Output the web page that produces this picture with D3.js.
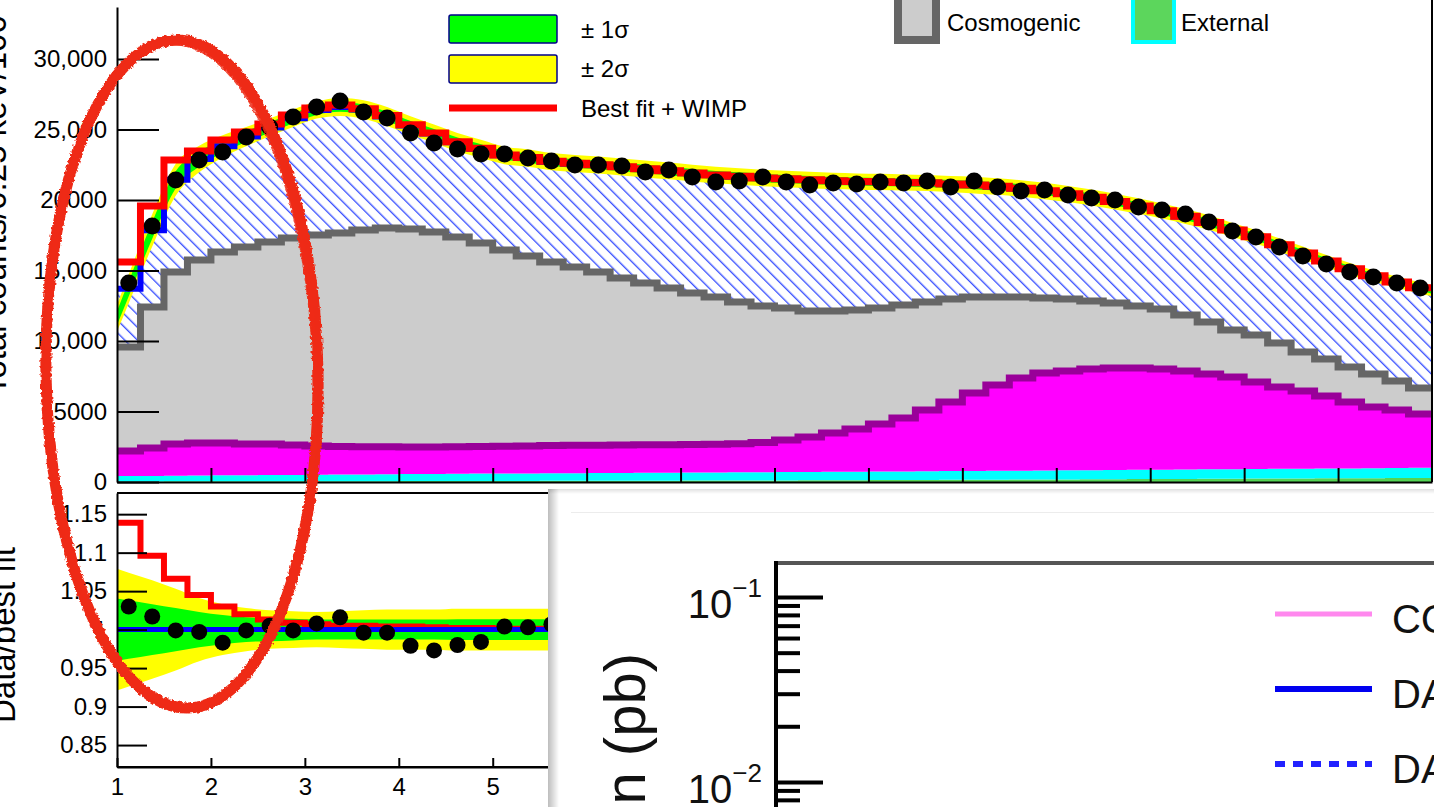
<!DOCTYPE html>
<html>
<head>
<meta charset="utf-8">
<script src="https://cdn.jsdelivr.net/npm/d3@7"></script>
<style>
html,body{margin:0;padding:0;background:#fff;overflow:hidden;}
svg{display:block;font-family:"Liberation Sans",Arial,Helvetica,sans-serif;}
</style>
</head>
<body>
<script>
// energy bins, 0.25 keV wide (lower edges)
var binW = 0.25;
var binLo = [1,1.25,1.5,1.75,2,2.25,2.5,2.75,3,3.25,3.5,3.75,4,4.25,4.5,4.75,5,5.25,5.5,5.75,6,6.25,6.5,6.75,7,7.25,7.5,7.75,8,8.25,8.5,8.75,9,9.25,9.5,9.75,10,10.25,10.5,10.75,11,11.25,11.5,11.75,12,12.25,12.5,12.75,13,13.25,13.5,13.75,14,14.25,14.5,14.75];

// counts per bin
var dataCounts = [14110,18160,21420,22840,23400,24470,25180,25890,26600,27020,26240,25820,24750,24040,23620,23260,23260,22980,22770,22480,22480,22410,21990,22130,21630,21280,21350,21630,21280,21060,21210,21130,21280,21210,21350,20920,21350,20920,20640,20710,20350,20140,20000,19500,19290,19010,18440,17800,17380,16670,16030,15460,14890,14540,14110,13760];
var bestFit = [13700,17850,21440,22910,23810,24500,25150,25800,26380,26600,26420,25920,25280,24710,24100,23640,23170,22980,22720,22590,22480,22340,22200,22060,21910,21770,21670,21560,21490,21420,21350,21310,21280,21240,21210,21130,21060,20960,20820,20640,20430,20180,19890,19570,19220,18830,18400,17870,17380,16810,16240,15670,15110,14610,14180,13760];
var fitWimp = [15600,19570,22840,23480,24260,24820,25390,26030,26520,26740,26480,25990,25340,24760,24140,23680,23200,23010,22750,22610,22500,22360,22210,22070,21920,21780,21680,21570,21500,21430,21360,21320,21290,21250,21220,21140,21070,20970,20830,20650,20440,20190,19900,19580,19230,18840,18410,17880,17390,16820,16250,15680,15120,14620,14190,13770];

// background components (stacked, bottom to top)
var external = [40,40,45,45,50,50,50,55,55,60,60,60,65,65,70,70,75,75,80,80,85,90,90,95,100,100,105,110,115,120,125,130,135,140,150,155,160,165,170,180,185,190,200,205,210,220,225,230,240,245,250,260,265,270,280,290];
var surface = [380,390,400,410,420,430,440,450,460,470,480,490,500,510,520,525,530,535,540,545,550,555,560,565,570,575,580,585,590,595,600,600,605,610,615,620,625,630,635,640,645,650,655,660,665,670,675,680,685,690,695,700,700,705,710,715];
var internal = [1780,1980,2255,2315,2300,2220,2210,2115,2035,1990,1960,1950,1915,1905,1910,1925,1935,1950,1960,1975,1965,1975,1990,1990,1990,2005,2035,2105,2275,2475,2755,3030,3370,3790,4345,4895,5525,6085,6575,6910,7040,7170,7235,7225,7135,6980,6760,6540,6165,5805,5505,5140,4705,4345,4120,3815];
var cosmogenic = [7370,10000,12190,12970,13540,13970,14320,14680,14970,15140,15370,15510,15460,15250,14880,14430,13910,13470,13020,12650,12290,11850,11470,11110,10740,10440,10050,9680,9360,8940,8650,8440,8230,8010,7660,7310,6810,6240,5740,5320,5110,4830,4610,4390,4260,3970,3690,3330,3340,3120,2770,2620,2490,2340,2050,1850];

// relative uncertainty of the fit
var sig2 = [0.074,0.064,0.053,0.041,0.033,0.028,0.025,0.024,0.023,0.024,0.025,0.026,0.026,0.026,0.027,0.027,0.027,0.027,0.027,0.027,0.027,0.027,0.027,0.027,0.027,0.027,0.027,0.027,0.027,0.027,0.027,0.027,0.027,0.027,0.027,0.027,0.028,0.028,0.028,0.028,0.028,0.028,0.028,0.028,0.028,0.028,0.028,0.028,0.028,0.028,0.028,0.028,0.028,0.028,0.028,0.028];
var sig1 = [0.038,0.033,0.028,0.023,0.019,0.016,0.015,0.014,0.013,0.013,0.013,0.013,0.013,0.013,0.0135,0.0135,0.0135,0.0135,0.0135,0.0135,0.0135,0.0135,0.0135,0.0135,0.0135,0.0135,0.0135,0.0135,0.0135,0.0135,0.0135,0.0135,0.0135,0.0135,0.0135,0.0135,0.014,0.014,0.014,0.014,0.014,0.014,0.014,0.014,0.014,0.014,0.014,0.014,0.014,0.014,0.014,0.014,0.014,0.014,0.014,0.014];

// ratio panel (only the bins not hidden by the pasted figure)
var ratioData = [1.030,1.017,0.999,0.997,0.983,0.999,1.005,0.999,1.008,1.016,0.996,0.996,0.979,0.973,0.980,0.984,1.004,1.003,1.007];
var ratioWimp = [1.139,1.096,1.066,1.045,1.030,1.020,1.013,1.009,1.007,1.005,1.005,1.004,1.004,1.003,1.002,1.002,1.001,1.001,1.001];

var yTicks = [0,5000,10000,15000,20000,25000,30000];
var yTickLabels = ["0","5000","10,000","15,000","20000","25,000","30,000"];
var rTicks = [0.85,0.9,0.95,1,1.05,1.1,1.15];
var rTickLabels = ["0.85","0.9","0.95","1","1.05","1.1","1.15"];
var xTicks = [2,3,4,5,6,7,8,9,10,11,12,13,14];
var rxLabels = [1,2,3,4,5];   // the rest sits under the pasted figure

// second (pasted) figure
var logMajor = [0.01,0.1];
var logMinor = [0.008,0.009,0.02,0.03,0.04,0.05,0.06,0.07,0.08,0.09];
var logLabels = ["\u22122","\u22121"];
var legend2 = [
  {name:"COSINE-100", color:"#ff88ee", width:5, dash:null},
  {name:"DAMA/LIBRA Na", color:"#0000f0", width:6, dash:null},
  {name:"DAMA/LIBRA I", color:"#2222ff", width:6, dash:"10,8"}
];

var W = 1434, H = 807;
var svg = d3.select("body").append("svg").attr("width", W).attr("height", H);
var defs = svg.append("defs");

var x = d3.scaleLinear().domain([1, 15]).range([117, 1432]);
var y = d3.scaleLinear().domain([0, 33690]).range([482, 7]);
var yr = d3.scaleLinear().domain([0.8215, 1.1775]).range([767, 493]);

var hatch = defs.append("pattern").attr("id", "hatch").attr("patternUnits", "userSpaceOnUse")
    .attr("width", 9).attr("height", 9).attr("patternTransform", "rotate(-45)");
hatch.append("rect").attr("width", 9).attr("height", 9).attr("fill", "#fff");
hatch.append("line").attr("x1", 0.7).attr("y1", 0).attr("x2", 0.7).attr("y2", 9)
    .attr("stroke", "#3048ff").attr("stroke-width", 1.3);

defs.append("clipPath").attr("id", "clipMain").append("rect")
    .attr("x", 117).attr("y", 0).attr("width", 1315).attr("height", 482);
defs.append("clipPath").attr("id", "clipRatio").append("rect")
    .attr("x", 117).attr("y", 493).attr("width", 1315).attr("height", 274);

// rough marker stroke
var rough = defs.append("filter").attr("id", "rough").attr("x", "-10%").attr("y", "-10%")
    .attr("width", "120%").attr("height", "120%");
rough.append("feTurbulence").attr("type", "fractalNoise").attr("baseFrequency", 0.35)
    .attr("numOctaves", 2).attr("seed", 3).attr("result", "n");
rough.append("feDisplacementMap").attr("in", "SourceGraphic").attr("in2", "n")
    .attr("scale", 4).attr("xChannelSelector", "R").attr("yChannelSelector", "G");

// step helpers
function stepPts(lo, hi) {
  var p = binLo.map(function(b, i) { return [b, lo[i], hi[i]]; });
  var n = binLo.length - 1;
  p.push([binLo[n] + binW, lo[n], hi[n]]);
  return p;
}
var stepArea = d3.area().curve(d3.curveStepAfter)
    .x(function(d) { return x(d[0]); })
    .y0(function(d) { return y(d[1]); })
    .y1(function(d) { return y(d[2]); });
var stepLine = d3.line().curve(d3.curveStepAfter)
    .x(function(d) { return x(d[0]); })
    .y(function(d) { return y(d[2]); });

// stack
var rows = binLo.map(function(b, i) {
  return {external: external[i], surface: surface[i], internal: internal[i], cosmogenic: cosmogenic[i]};
});
var keys = ["external", "surface", "internal", "cosmogenic"];
var fills = {external: "#55d455", surface: "#00ffff", internal: "#ff00ff", cosmogenic: "#cccccc"};
var borders = {internal: "#990099", cosmogenic: "#666666"};
var stacked = d3.stack().keys(keys)(rows);

var main = svg.append("g").attr("clip-path", "url(#clipMain)");

stacked.forEach(function(layer) {
  var lo = layer.map(function(d) { return d[0]; });
  var hi = layer.map(function(d) { return d[1]; });
  main.append("path").attr("d", stepArea(stepPts(lo, hi))).attr("fill", fills[layer.key]);
});

var stackTop = stacked[stacked.length - 1].map(function(d) { return d[1]; });
main.append("path").attr("d", stepArea(stepPts(stackTop, bestFit))).attr("fill", "url(#hatch)");

stacked.forEach(function(layer) {
  if (!borders[layer.key]) return;
  var hi = layer.map(function(d) { return d[1]; });
  main.append("path").attr("d", stepLine(stepPts(hi, hi)))
      .attr("fill", "none").attr("stroke", borders[layer.key]).attr("stroke-width", 7);
});

// uncertainty bands (smooth, through bin centres, extended to the edges)
function extendEdges(pts) {
  var n = pts.length, a = pts[0], b = pts[1], c = pts[n - 2], d = pts[n - 1];
  var first = [1], last = [15];
  for (var k = 1; k < a.length; k++) {
    first.push(a[k] - (b[k] - a[k]) / 2);
    last.push(d[k] + (d[k] - c[k]) / 2);
  }
  return [first].concat(pts, [last]);
}
function bandPts(sig) {
  return extendEdges(binLo.map(function(b, i) {
    return [b + binW / 2, bestFit[i] * (1 - sig[i]), bestFit[i] * (1 + sig[i])];
  }));
}
var bandArea = d3.area().curve(d3.curveMonotoneX)
    .x(function(d) { return x(d[0]); })
    .y0(function(d) { return y(d[1]); })
    .y1(function(d) { return y(d[2]); });
main.append("path").attr("d", bandArea(bandPts(sig2))).attr("fill", "#ffff00");
main.append("path").attr("d", bandArea(bandPts(sig1))).attr("fill", "#00ff00");

main.append("path").attr("d", stepLine(stepPts(bestFit, bestFit)))
    .attr("fill", "none").attr("stroke", "#0000ff").attr("stroke-width", 6);
main.append("path").attr("d", stepLine(stepPts(fitWimp, fitWimp)))
    .attr("fill", "none").attr("stroke", "#ff0000").attr("stroke-width", 7);

svg.append("g").selectAll("circle").data(dataCounts).enter().append("circle")
    .attr("cx", function(d, i) { return x(binLo[i] + binW / 2); })
    .attr("cy", function(d) { return y(d); })
    .attr("r", 8.5).attr("fill", "#000");

// main axes
var yAx = svg.append("g").attr("transform", "translate(117,0)")
    .call(d3.axisLeft(y).tickValues(yTicks).tickSize(-42).tickSizeOuter(0).tickPadding(10)
      .tickFormat(function(d, i) { return yTickLabels[i]; }));
var xAx = svg.append("g").attr("transform", "translate(0,482)")
    .call(d3.axisBottom(x).tickValues(xTicks).tickSize(-14).tickSizeOuter(0).tickFormat(""));
svg.append("line").attr("x1", 1432).attr("x2", 1432).attr("y1", 0).attr("y2", 482)
    .attr("stroke", "#000").attr("stroke-width", 2);

svg.append("text").attr("transform", "translate(6,395) rotate(-90)")
    .attr("font-size", 33).text("Total counts/0.25 keV/100");

// ratio panel
var ratio = svg.append("g").attr("clip-path", "url(#clipRatio)");
function ratioBand(sig) {
  return extendEdges(binLo.map(function(b, i) { return [b + binW / 2, 1 - sig[i], 1 + sig[i]]; }));
}
var rBand = d3.area().curve(d3.curveMonotoneX)
    .x(function(d) { return x(d[0]); })
    .y0(function(d) { return yr(d[1]); })
    .y1(function(d) { return yr(d[2]); });
ratio.append("path").attr("d", rBand(ratioBand(sig2))).attr("fill", "#ffff00");
ratio.append("path").attr("d", rBand(ratioBand(sig1))).attr("fill", "#00ff00");

var rStep = ratioWimp.map(function(v, i) { return [binLo[i], v]; });
rStep.push([binLo[ratioWimp.length - 1] + binW, ratioWimp[ratioWimp.length - 1]]);
ratio.append("path")
    .attr("d", d3.line().curve(d3.curveStepAfter)
      .x(function(d) { return x(d[0]); }).y(function(d) { return yr(d[1]); })(rStep))
    .attr("fill", "none").attr("stroke", "#ff0000").attr("stroke-width", 6);
ratio.append("line").attr("x1", x(1)).attr("x2", x(15)).attr("y1", yr(1)).attr("y2", yr(1))
    .attr("stroke", "#0000ff").attr("stroke-width", 5);
ratio.selectAll("circle").data(ratioData).enter().append("circle")
    .attr("cx", function(d, i) { return x(binLo[i] + binW / 2); })
    .attr("cy", function(d) { return yr(d); })
    .attr("r", 8).attr("fill", "#000");

var ryAx = svg.append("g").attr("transform", "translate(117,0)")
    .call(d3.axisLeft(yr).tickValues(rTicks).tickSize(-30).tickSizeOuter(0).tickPadding(10)
      .tickFormat(function(d, i) { return rTickLabels[i]; }));
var rxAx = svg.append("g").attr("transform", "translate(0,767)")
    .call(d3.axisBottom(x).tickValues(rxLabels).tickSize(-9).tickSizeOuter(0).tickPadding(11));
svg.append("line").attr("x1", 117).attr("x2", 560).attr("y1", 767).attr("y2", 767)
    .attr("stroke", "#000").attr("stroke-width", 2);
svg.append("line").attr("x1", 117).attr("x2", 560).attr("y1", 493).attr("y2", 493)
    .attr("stroke", "#000").attr("stroke-width", 2);

[yAx, xAx, ryAx, rxAx].forEach(function(g) {
  g.attr("font-size", 24).attr("font-family", "Liberation Sans, Arial, sans-serif");
  g.selectAll("line").attr("stroke", "#000").attr("stroke-width", 2);
  g.select(".domain").attr("stroke", "#000").attr("stroke-width", 2);
  g.selectAll("text").attr("fill", "#000");
});

svg.append("text").attr("transform", "translate(15,635) rotate(-90)")
    .attr("text-anchor", "middle").attr("font-size", 33).text("Data/best fit");

// legends
var leg = svg.append("g").attr("font-size", 24);
leg.append("rect").attr("x", 449).attr("y", 15).attr("width", 108).attr("height", 28).attr("rx", 2)
    .attr("fill", "#00ff00").attr("stroke", "#00008b").attr("stroke-width", 1.5);
leg.append("rect").attr("x", 449).attr("y", 55).attr("width", 108).attr("height", 28).attr("rx", 2)
    .attr("fill", "#ffff00").attr("stroke", "#00008b").attr("stroke-width", 1.5);
leg.append("line").attr("x1", 449).attr("x2", 557).attr("y1", 108).attr("y2", 108)
    .attr("stroke", "#ff0000").attr("stroke-width", 7);
leg.append("text").attr("x", 581).attr("y", 38).text("\u00b1 1\u03c3");
leg.append("text").attr("x", 581).attr("y", 77).text("\u00b1 2\u03c3");
leg.append("text").attr("x", 581).attr("y", 117).text("Best fit + WIMP");

leg.append("rect").attr("x", 898).attr("y", -10).attr("width", 38).attr("height", 50)
    .attr("fill", "#cccccc").attr("stroke", "#666666").attr("stroke-width", 8);
leg.append("text").attr("x", 947).attr("y", 31).text("Cosmogenic");
leg.append("rect").attr("x", 1133).attr("y", -10).attr("width", 41).attr("height", 52)
    .attr("fill", "#5cd65c").attr("stroke", "#00ffff").attr("stroke-width", 4);
leg.append("text").attr("x", 1181).attr("y", 31).text("External");

// pasted second figure
var sh = defs.append("linearGradient").attr("id", "shL").attr("x1", 0).attr("x2", 1).attr("y1", 0).attr("y2", 0);
sh.append("stop").attr("offset", 0).attr("stop-color", "#000").attr("stop-opacity", 0.26);
sh.append("stop").attr("offset", 1).attr("stop-color", "#000").attr("stop-opacity", 0);
var shT = defs.append("linearGradient").attr("id", "shT").attr("x1", 0).attr("x2", 0).attr("y1", 0).attr("y2", 1);
shT.append("stop").attr("offset", 0).attr("stop-color", "#000").attr("stop-opacity", 0.12);
shT.append("stop").attr("offset", 1).attr("stop-color", "#000").attr("stop-opacity", 0);

var ov = svg.append("g");
ov.append("rect").attr("x", 548).attr("y", 489).attr("width", W - 548).attr("height", H - 489).attr("fill", "#fff");
ov.append("rect").attr("x", 548).attr("y", 489).attr("width", 11).attr("height", H - 489).attr("fill", "url(#shL)");
ov.append("rect").attr("x", 548).attr("y", 489).attr("width", W - 548).attr("height", 5).attr("fill", "url(#shT)");
ov.append("line").attr("x1", 571).attr("x2", W).attr("y1", 512.5).attr("y2", 512.5)
    .attr("stroke", "#ececec").attr("stroke-width", 1);

var ly = d3.scaleLog().domain([0.00732, 0.1527]).range([807, 563]);
ov.append("g").attr("transform", "translate(776,0)")
    .call(d3.axisRight(ly).tickValues(logMajor).tickSize(47).tickFormat(""))
    .call(function(g) { g.select(".domain").remove(); })
    .selectAll("line").attr("stroke", "#000").attr("stroke-width", 4);
ov.append("g").attr("transform", "translate(776,0)")
    .call(d3.axisRight(ly).tickValues(logMinor).tickSize(24).tickFormat(""))
    .call(function(g) { g.select(".domain").remove(); })
    .selectAll("line").attr("stroke", "#000").attr("stroke-width", 4);
ov.append("line").attr("x1", 776).attr("x2", W).attr("y1", 563).attr("y2", 563)
    .attr("stroke", "#555").attr("stroke-width", 4);
ov.append("line").attr("x1", 776).attr("x2", 776).attr("y1", 561).attr("y2", H)
    .attr("stroke", "#000").attr("stroke-width", 4);

logMajor.forEach(function(v, i) {
  var t = ov.append("text").attr("x", 762).attr("y", ly(v) + 21).attr("text-anchor", "end").attr("fill", "#111");
  t.append("tspan").attr("font-size", 40).text("10");
  t.append("tspan").attr("font-size", 26).attr("dy", -21).text(logLabels[i]);
});
ov.append("text").attr("transform", "translate(645,653) rotate(-90)")
    .attr("text-anchor", "end").attr("font-size", 58).attr("fill", "#111").text("Cross section (pb)");

legend2.forEach(function(d, i) {
  var yy = 614 + i * 75;
  var l = ov.append("line").attr("x1", 1275).attr("x2", 1372).attr("y1", yy).attr("y2", yy)
      .attr("stroke", d.color).attr("stroke-width", d.width);
  if (d.dash) l.attr("stroke-dasharray", d.dash);
  ov.append("text").attr("x", 1392).attr("y", yy + 19).attr("font-size", 40).attr("fill", "#111").text(d.name);
});

// hand-drawn red mark
var mark = svg.append("g").attr("filter", "url(#rough)");
mark.append("ellipse").attr("cx", 182).attr("cy", 374).attr("rx", 136).attr("ry", 334)
    .attr("transform", "rotate(-1,182,374)")
    .attr("fill", "none").attr("stroke", "#ee2a14").attr("stroke-width", 11);
mark.append("ellipse").attr("cx", 181).attr("cy", 375).attr("rx", 134).attr("ry", 332)
    .attr("transform", "rotate(-1.5,182,374)")
    .attr("fill", "none").attr("stroke", "#ee2a14").attr("stroke-width", 5).attr("opacity", 0.85);
</script>
</body>
</html>
